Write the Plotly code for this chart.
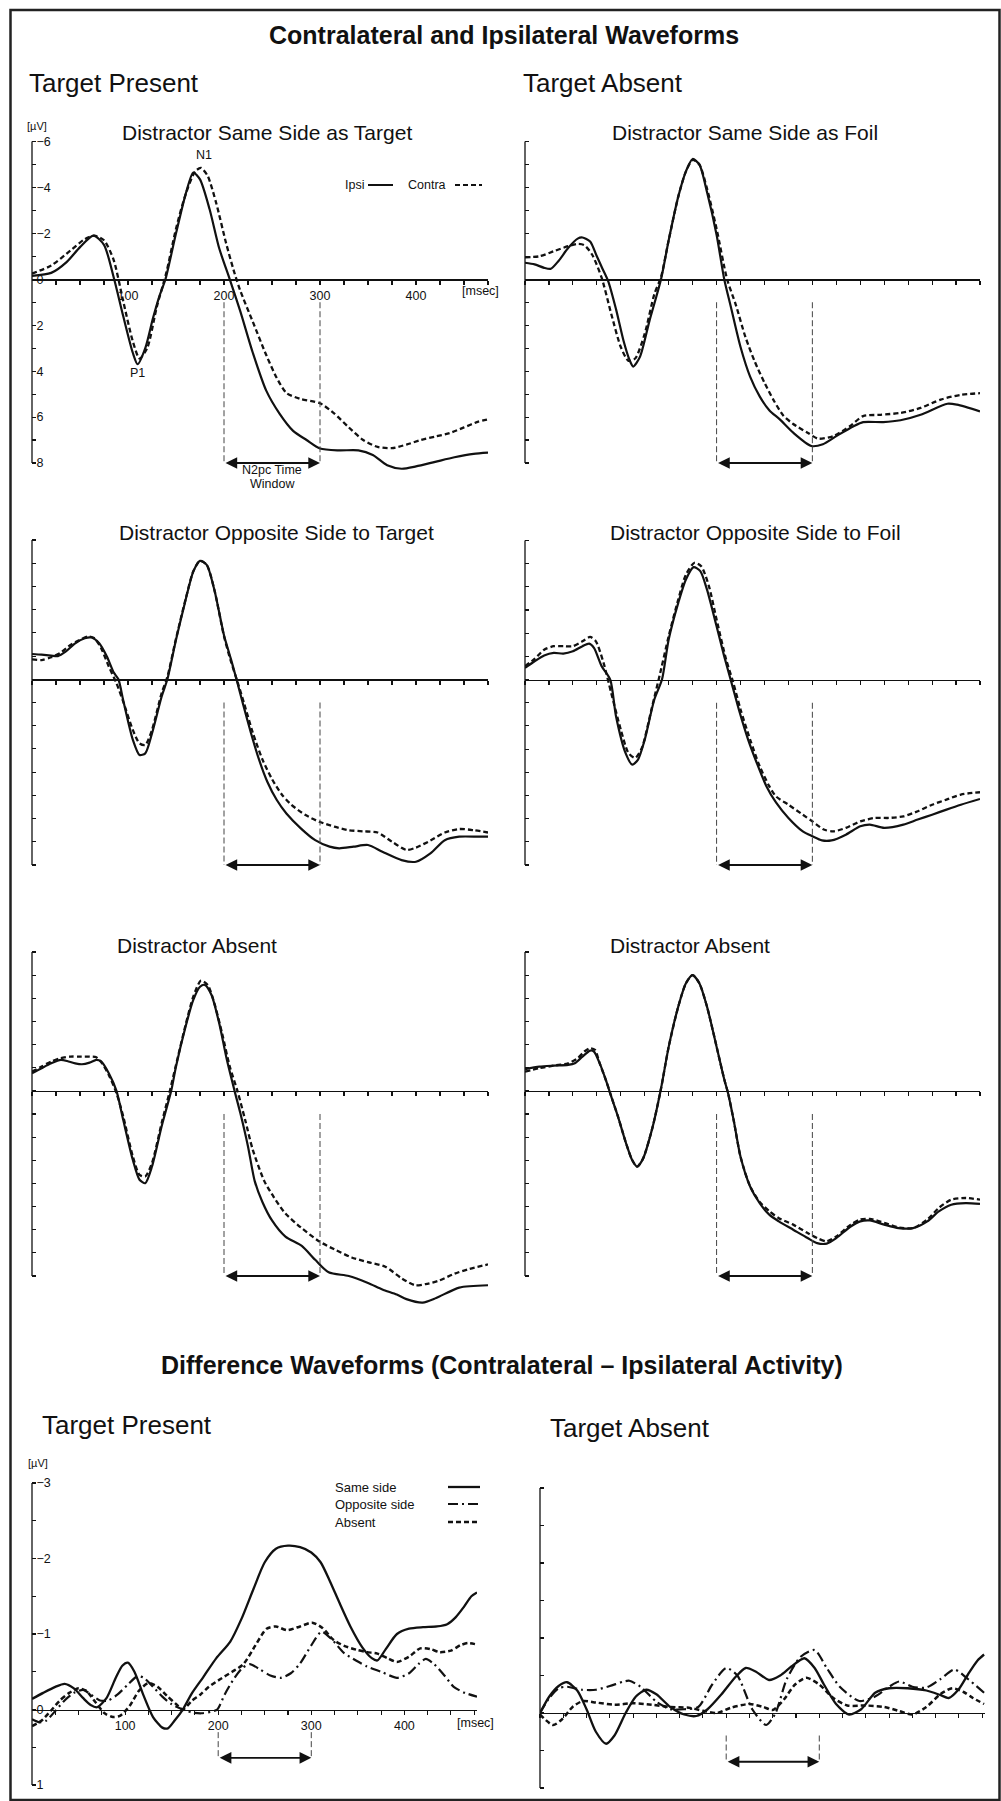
import plotly.graph_objects as go

# ---------------- data ----------------
TIME_TICKS = list(range(0, 476, 25))
X_LABELED = [100, 200, 300, 400]
ERP_Y_TICKS = list(range(-6, 9))
ERP_Y_LABELS = ["−6", "", "−4", "", "−2", "", "0", "", "2", "", "4", "", "6", "", "8"]
DIFF_Y_TICKS = [-3, -2.5, -2, -1.5, -1, -0.5, 0, 0.5, 1]
DIFF_Y_LABELS = ["−3", "", "−2", "", "−1", "", "0", "", "1"]
N2PC_WINDOW = [200, 300]

PANEL_TITLES = ["Distractor Same Side as Target", "Distractor Same Side as Foil",
                "Distractor Opposite Side to Target", "Distractor Opposite Side to Foil",
                "Distractor Absent", "Distractor Absent"]
DIFF_LEGEND = ["Same side", "Opposite side", "Absent"]

# Target present, distractor same side as target
a_ipsi_t = [0, 20, 36, 50, 64, 75, 85, 95, 105, 110, 118, 126, 133, 139, 150, 160, 168, 175, 185, 195,
            206, 217, 230, 244, 258, 272, 286, 300, 320, 340, 355, 370, 385, 400, 420, 440, 460, 475]
a_ipsi_v = [-0.15, -0.28, -0.75, -1.4, -1.9, -1.5, -0.1, 1.6, 3.2, 3.7, 3.0, 1.7, 0.7, 0.0, -2.0, -3.7, -4.65, -4.35, -3.05, -1.35,
            0.0, 1.4, 3.2, 4.85, 5.86, 6.6, 7.0, 7.37, 7.45, 7.45, 7.65, 8.1, 8.25, 8.15, 7.95, 7.75, 7.6, 7.55]
a_contra_t = [0, 20, 40, 55, 65, 75, 85, 95, 105, 112, 120, 130, 140, 150, 160, 170, 176, 183, 192, 202,
              210, 217, 230, 244, 255, 265, 279, 300, 315, 330, 345, 360, 375, 390, 405, 420, 435, 450, 465, 475]
a_contra_v = [-0.25, -0.6, -1.25, -1.75, -1.9, -1.7, -0.85, 0.95, 2.7, 3.45, 3.0, 1.2, -0.3, -2.2, -3.7, -4.7, -4.85, -4.5, -3.3, -1.6,
              -0.4, 0.5, 1.85, 3.3, 4.3, 4.95, 5.2, 5.4, 5.85, 6.45, 7.0, 7.3, 7.35, 7.2, 7.0, 6.85, 6.7, 6.45, 6.2, 6.1]

# Target absent, distractor same side as foil
b_ipsi_t = [0, 10, 20, 27, 35, 45, 55, 60, 68, 75, 81, 87, 95, 103, 109, 113, 120, 130, 142, 150,
            160, 168, 175, 182, 190, 200, 208, 215, 225, 235, 245, 255, 266, 280, 299, 311, 325, 343, 353, 374,
            392, 413, 441, 451, 475]
b_ipsi_v = [-0.72, -0.65, -0.5, -0.46, -0.8, -1.36, -1.77, -1.82, -1.65, -1.0, -0.45, 0.1, 1.3, 2.7, 3.5, 3.8, 3.38, 1.8, 0.0, -1.7,
            -3.6, -4.7, -5.24, -5.0, -3.8, -1.94, 0.0, 1.22, 2.95, 4.24, 5.1, 5.7, 6.1, 6.68, 7.26, 7.18, 6.83, 6.4, 6.22, 6.22,
            6.14, 5.9, 5.42, 5.46, 5.75]
b_contra_t = [0, 15, 30, 45, 55, 62, 70, 80, 90, 100, 108, 115, 125, 135, 142, 150, 160, 168, 175, 182,
              190, 200, 211, 220, 230, 240, 250, 260, 270, 280, 295, 306, 322, 339, 353, 371, 392, 413, 434, 455, 475]
b_contra_v = [-0.96, -1.0, -1.22, -1.44, -1.54, -1.48, -1.08, -0.07, 1.5, 2.95, 3.55, 3.45, 2.37, 0.65, -0.1, -1.7, -3.6, -4.7, -5.2, -5.0,
              -3.95, -2.2, 0.0, 1.1, 2.5, 3.6, 4.5, 5.3, 5.95, 6.3, 6.68, 6.94, 6.83, 6.4, 5.96, 5.9, 5.82, 5.6, 5.24, 5.03, 4.96]

# Target present, distractor opposite side to target
c_ipsi_t = [0, 10, 20, 27, 35, 45, 55, 62, 70, 78, 85, 90, 95, 105, 112, 118, 125, 135, 141, 150,
            160, 168, 175, 182, 190, 200, 207, 213, 220, 228, 236, 245, 255, 265, 280, 295, 310, 320, 335, 350,
            365, 385, 400, 415, 430, 445, 465, 475]
c_ipsi_v = [-1.09, -1.06, -1.02, -1.0, -1.19, -1.55, -1.77, -1.8, -1.55, -0.98, -0.3, 0.0, 0.9, 2.6, 3.26, 3.19, 2.33, 0.75, 0.0, -1.7,
            -3.42, -4.64, -5.1, -4.93, -3.85, -1.9, -0.9, 0.0, 1.1, 2.3, 3.4, 4.4, 5.2, 5.78, 6.42, 6.93, 7.21, 7.28, 7.21, 7.14,
            7.43, 7.79, 7.86, 7.5, 6.93, 6.78, 6.78, 6.78]
c_contra_t = [0, 10, 20, 30, 40, 50, 58, 65, 72, 80, 88, 95, 105, 112, 118, 125, 135, 141, 150, 160,
              168, 175, 182, 190, 200, 207, 214, 221, 230, 240, 250, 260, 270, 285, 300, 315, 330, 345, 360, 375,
              390, 400, 415, 430, 445, 460, 475]
c_contra_v = [-0.86, -0.83, -0.95, -1.15, -1.48, -1.7, -1.84, -1.77, -1.34, -0.55, 0.17, 0.96, 2.18, 2.76, 2.83, 2.18, 0.6, -0.1, -1.75, -3.45,
              -4.65, -5.1, -4.93, -3.85, -1.85, -0.8, 0.1, 1.05, 2.3, 3.45, 4.3, 4.95, 5.4, 5.85, 6.15, 6.35, 6.5, 6.55, 6.6, 7.0,
              7.35, 7.25, 6.95, 6.6, 6.45, 6.5, 6.6]

# Target absent, distractor opposite side to foil
d_ipsi_t = [0, 10, 20, 30, 40, 50, 60, 67, 72, 80, 89, 95, 105, 112, 118, 125, 135, 143, 150, 160,
            168, 176, 183, 190, 200, 208, 216, 224, 233, 242, 252, 262, 275, 290, 300, 310, 320, 335, 350, 360,
            375, 395, 410, 425, 440, 455, 475]
d_ipsi_v = [-0.5, -0.79, -1.04, -1.15, -1.12, -1.22, -1.44, -1.55, -1.37, -0.58, 0.0, 1.58, 3.17, 3.67, 3.45, 2.59, 0.86, 0.0, -1.73, -3.31,
            -4.32, -4.85, -4.68, -3.88, -2.3, -1.0, 0.2, 1.4, 2.6, 3.6, 4.6, 5.3, 5.97, 6.55, 6.76, 6.94, 6.94, 6.69, 6.33, 6.26,
            6.4, 6.26, 6.04, 5.83, 5.61, 5.4, 5.15]
d_contra_t = [0, 10, 20, 30, 40, 50, 60, 68, 74, 82, 90, 100, 108, 115, 122, 132, 142, 150, 160, 168,
              177, 184, 192, 200, 210, 217, 225, 235, 245, 255, 262, 275, 290, 300, 312, 322, 335, 350, 365, 380,
              395, 410, 425, 440, 455, 475]
d_contra_v = [-0.58, -0.89, -1.29, -1.44, -1.44, -1.44, -1.65, -1.84, -1.65, -0.72, 0.58, 2.16, 3.17, 3.38, 2.95, 1.29, -0.43, -1.87, -3.45, -4.53,
              -5.04, -4.89, -4.03, -2.59, -0.86, 0.07, 1.29, 2.59, 3.74, 4.6, 5.04, 5.4, 5.83, 6.12, 6.47, 6.55, 6.4, 6.12, 5.97, 5.97,
              5.9, 5.68, 5.4, 5.18, 4.96, 4.86]

# Target present, distractor absent
e_ipsi_t = [0, 10, 20, 30, 38, 45, 52, 60, 67, 72, 80, 88, 95, 105, 112, 118, 125, 135, 145, 150,
            160, 168, 175, 180, 187, 195, 203, 211, 217, 225, 232, 240, 250, 264, 281, 295, 309, 330, 350, 365,
            380, 390, 407, 421, 445, 475]
e_ipsi_v = [-0.76, -0.98, -1.19, -1.34, -1.27, -1.19, -1.15, -1.22, -1.34, -1.27, -0.76, 0.0, 1.25, 2.98, 3.84, 3.99, 3.27, 1.54, 0.0, -1.05,
            -2.78, -3.93, -4.5, -4.58, -4.14, -2.92, -1.34, 0.0, 0.96, 2.4, 3.9, 4.8, 5.6, 6.3, 6.7, 7.3, 7.84, 8.0, 8.3, 8.58,
            8.8, 9.0, 9.15, 8.95, 8.5, 8.4]
e_contra_t = [0, 10, 20, 30, 40, 50, 60, 67, 73, 80, 88, 95, 105, 112, 118, 125, 135, 143, 150, 160,
              168, 176, 183, 190, 198, 206, 214, 222, 230, 242, 252, 264, 280, 299, 315, 333, 350, 368, 385, 399,
              410, 424, 440, 455, 475]
e_contra_v = [-0.83, -1.05, -1.27, -1.41, -1.48, -1.48, -1.48, -1.45, -1.19, -0.69, 0.1, 1.1, 2.83, 3.63, 3.7, 3.12, 1.4, 0.1, -1.12, -2.85,
              -4.07, -4.76, -4.58, -3.78, -2.49, -1.05, 0.0, 1.25, 2.55, 3.9, 4.6, 5.3, 5.9, 6.5, 6.85, 7.2, 7.4, 7.6, 8.1, 8.4,
              8.35, 8.2, 7.9, 7.7, 7.5]

# Target absent, distractor absent
f_ipsi_t = [0, 15, 30, 45, 52, 60, 68, 72, 78, 85, 90, 97, 105, 112, 117, 123, 133, 142, 150, 160,
            168, 175, 182, 190, 200, 208, 212, 218, 225, 235, 245, 255, 265, 280, 295, 305, 315, 325, 340, 350,
            360, 375, 390, 405, 420, 432, 445, 460, 475]
f_ipsi_v = [-0.94, -1.05, -1.09, -1.12, -1.19, -1.48, -1.74, -1.7, -1.19, -0.4, 0.24, 1.1, 2.2, 3.0, 3.27, 2.95, 1.6, -0.1, -1.9, -3.64,
            -4.65, -5.0, -4.65, -3.64, -1.91, -0.5, 0.1, 1.3, 2.85, 4.13, 4.85, 5.35, 5.64, 6.0, 6.36, 6.58, 6.6, 6.36, 5.86, 5.64,
            5.6, 5.78, 5.93, 5.93, 5.64, 5.21, 4.92, 4.85, 4.88]
f_contra_t = [0, 15, 30, 45, 55, 62, 68, 73, 78, 85, 90, 97, 105, 112, 117, 123, 133, 142, 150, 160,
              168, 175, 182, 190, 200, 208, 212, 218, 225, 235, 245, 255, 265, 280, 295, 305, 315, 325, 340, 350,
              360, 375, 390, 405, 420, 432, 445, 460, 475]
f_contra_v = [-0.83, -0.98, -1.09, -1.19, -1.41, -1.7, -1.84, -1.77, -1.19, -0.4, 0.24, 1.1, 2.2, 3.0, 3.27, 2.95, 1.6, -0.1, -1.9, -3.64,
              -4.65, -5.0, -4.65, -3.64, -1.91, -0.5, 0.1, 1.3, 2.85, 4.13, 4.8, 5.2, 5.5, 5.78, 6.14, 6.36, 6.5, 6.29, 5.78, 5.56,
              5.53, 5.7, 5.9, 5.93, 5.56, 5.06, 4.7, 4.63, 4.7]

# Difference waves, target present
tp_same_t = [0, 12, 25, 35, 45, 55, 63, 70, 80, 90, 97, 103, 110, 120, 130, 140, 146, 153, 162, 172,
             184, 198, 213, 225, 238, 250, 262, 275, 288, 300, 310, 320, 330, 342, 355, 365, 371, 380, 392, 405,
             420, 435, 446, 455, 464, 472, 478]
tp_same_v = [-0.14, -0.22, -0.3, -0.34, -0.28, -0.15, -0.06, -0.03, -0.15, -0.42, -0.58, -0.62, -0.5, -0.18, 0.1, 0.24, 0.25, 0.15, 0.0, -0.22,
             -0.43, -0.68, -0.9, -1.2, -1.6, -1.95, -2.13, -2.17, -2.15, -2.08, -1.95, -1.7, -1.42, -1.1, -0.82, -0.68, -0.65, -0.8, -1.0, -1.07,
             -1.09, -1.1, -1.13, -1.22, -1.36, -1.5, -1.55]
tp_opp_t = [0, 8, 15, 25, 35, 45, 55, 63, 73, 82, 92, 103, 113, 120, 130, 140, 150, 162, 172, 182,
            192, 199, 207, 216, 226, 234, 245, 256, 267, 278, 288, 300, 311, 322, 335, 348, 360, 375, 392, 405,
            415, 423, 432, 443, 453, 465, 478]
tp_opp_v = [0.13, 0.17, 0.15, 0.02, -0.12, -0.22, -0.26, -0.2, -0.12, -0.12, -0.2, -0.33, -0.44, -0.42, -0.3, -0.17, -0.07, 0.0, 0.04, 0.05,
            0.03, 0.0, -0.2, -0.39, -0.55, -0.6, -0.53, -0.45, -0.42, -0.48, -0.61, -0.85, -1.03, -0.93, -0.75, -0.65, -0.57, -0.5, -0.42, -0.48,
            -0.6, -0.67, -0.6, -0.45, -0.3, -0.22, -0.17]
tp_abs_t = [0, 10, 20, 30, 40, 50, 58, 68, 78, 87, 95, 105, 115, 125, 135, 145, 155, 162, 172, 181,
            190, 202, 215, 227, 240, 252, 262, 274, 288, 301, 312, 324, 336, 349, 360, 371, 382, 392, 405, 417,
            428, 438, 450, 460, 468, 478]
tp_abs_v = [0.22, 0.15, 0.02, -0.12, -0.22, -0.28, -0.25, -0.1, 0.05, 0.1, 0.08, -0.05, -0.25, -0.35, -0.3, -0.18, -0.07, 0.0, -0.12, -0.2,
            -0.3, -0.4, -0.5, -0.6, -0.85, -1.07, -1.1, -1.05, -1.1, -1.15, -1.08, -0.92, -0.84, -0.79, -0.76, -0.74, -0.68, -0.63, -0.7, -0.81,
            -0.8, -0.76, -0.78, -0.85, -0.88, -0.86]

# Difference waves, target absent
ta_same_t = [0, 10, 20, 29, 40, 50, 60, 71, 80, 92, 103, 114, 125, 140, 155, 168, 180, 195, 210, 221,
             232, 246, 258, 270, 284, 295, 305, 318, 332, 345, 360, 375, 395, 415, 430, 439, 450, 460, 470, 477]
ta_same_v = [0.0, -0.22, -0.36, -0.41, -0.3, -0.05, 0.25, 0.41, 0.3, 0.0, -0.22, -0.31, -0.25, -0.08, 0.02, 0.04, -0.05, -0.25, -0.48, -0.6,
             -0.55, -0.44, -0.5, -0.62, -0.73, -0.6, -0.38, -0.12, 0.02, -0.05, -0.27, -0.33, -0.33, -0.3, -0.24, -0.2, -0.32, -0.52, -0.7, -0.78]
ta_opp_t = [0, 10, 20, 29, 45, 60, 75, 90, 96, 108, 125, 140, 155, 170, 185, 200, 212, 228, 243, 253,
            265, 280, 295, 308, 322, 343, 360, 375, 386, 400, 415, 430, 445, 460, 477]
ta_opp_v = [0.0, -0.2, -0.33, -0.35, -0.31, -0.31, -0.36, -0.42, -0.43, -0.35, -0.15, -0.05, -0.05, -0.08, -0.38, -0.6, -0.5, -0.05, 0.16, 0.0,
            -0.45, -0.75, -0.84, -0.6, -0.35, -0.16, -0.22, -0.35, -0.42, -0.35, -0.34, -0.45, -0.58, -0.45, -0.27]
ta_abs_t = [0, 14, 24, 35, 46, 60, 80, 100, 120, 140, 160, 175, 190, 205, 225, 240, 250, 262, 274, 286,
            300, 315, 330, 350, 370, 385, 400, 415, 430, 443, 455, 465, 477]
ta_abs_v = [0.02, 0.16, 0.08, -0.08, -0.16, -0.14, -0.11, -0.13, -0.11, -0.08, -0.07, -0.03, 0.0, -0.07, -0.12, -0.08, -0.04, -0.18, -0.38, -0.47,
            -0.38, -0.2, -0.1, -0.1, -0.08, -0.03, 0.02, -0.08, -0.25, -0.33, -0.28, -0.2, -0.12]

# ---------------- layout helpers ----------------
W, H = 1001, 1801
FONT = "Liberation Sans, Arial, Helvetica, sans-serif"
INK = "#111111"


def fx(p):
    return p / W


def fy(p):
    return 1 - p / H


fig = go.Figure()
layout = dict(width=W, height=H, margin=dict(l=0, r=0, t=0, b=0),
              paper_bgcolor="white", plot_bgcolor="rgba(0,0,0,0)",
              font=dict(family=FONT, color=INK), showlegend=False)
annotations = []
shapes = []

CONTRA_DASH = "5px,3px"
OPP_DASH = "10px,4px,2px,4px"
ABS_DASH = "5px,3px"


def setup_panel(idx, xpx, ypx, yvals, ypad, xrange_, yticks, ylabels, show_ylab, show_xlab, win_y, arrow_y):
    """xpx=(left,right) pixels; ypx=(pixel of yvals[0], pixel of yvals[1]); ypad=(extra data above, extra below)"""
    suf = "" if idx == 1 else str(idx)
    xr, yr = "x" + suf, "y" + suf
    ytop, ybot = yvals
    ppu = (ypx[1] - ypx[0]) / (ybot - ytop)
    ext_top = ytop - ypad[0]
    ext_bot = ybot + ypad[1]
    dom_top = ypx[0] - ypad[0] * ppu
    dom_bottom = ypx[1] + ypad[1] * ppu
    zero_px = ypx[0] + (0 - ytop) * ppu
    xtext = [str(v) if (v in X_LABELED and show_xlab) else "" for v in TIME_TICKS]
    layout["xaxis" + suf] = dict(
        domain=[fx(xpx[0]), fx(xpx[1])], range=xrange_, anchor="free", position=fy(zero_px),
        showline=True, linecolor=INK, linewidth=1.3, ticks="outside", ticklen=4, tickwidth=1.1,
        tickcolor=INK, tickvals=TIME_TICKS, ticktext=xtext, showticklabels=show_xlab,
        tickfont=dict(size=12.5, family=FONT, color=INK), showgrid=False, zeroline=False, fixedrange=True)
    layout["yaxis" + suf] = dict(
        domain=[fy(dom_bottom), fy(dom_top)], range=[ext_bot, ext_top], anchor=xr,
        showline=False, ticks="inside", ticklen=4, tickwidth=1.1, tickcolor=INK,
        tickvals=yticks, ticktext=ylabels, showticklabels=show_ylab, ticklabelposition="inside",
        tickfont=dict(size=12.5, family=FONT, color=INK), showgrid=False, zeroline=False, fixedrange=True)
    # y axis line only over the labelled span
    shapes.append(dict(type="line", xref=xr + " domain", yref=yr, x0=0, x1=0, y0=ytop, y1=ybot,
                       line=dict(color=INK, width=1.3)))
    # N2pc window markers
    for wv in N2PC_WINDOW:
        shapes.append(dict(type="line", xref=xr, yref=yr, x0=wv, x1=wv, y0=win_y, y1=arrow_y,
                           line=dict(color="#444444", width=1, dash="6px,3px")))
    annotations.append(dict(x=N2PC_WINDOW[1], y=arrow_y, ax=N2PC_WINDOW[0], ay=arrow_y,
                            xref=xr, yref=yr, axref=xr, ayref=yr, text="", showarrow=True,
                            arrowhead=2, arrowsize=1.3, arrowwidth=1.8, arrowcolor=INK,
                            arrowside="end+start", standoff=0, startstandoff=0))
    return xr, yr


def add_curve(xr, yr, t, v, dash="solid", width=2.2):
    fig.add_trace(go.Scatter(x=t, y=v, mode="lines", xaxis=xr, yaxis=yr,
                             line=dict(color=INK, width=width, dash=dash, shape="spline", smoothing=0.7),
                             hoverinfo="skip", showlegend=False))


def text(x, y, s, size, anchor="center", bold=False):
    annotations.append(dict(x=fx(x), y=fy(y), xref="paper", yref="paper", text=("<b>%s</b>" % s) if bold else s,
                            showarrow=False, xanchor=anchor, yanchor="middle",
                            font=dict(size=size, family=FONT, color=INK)))


ERP_PANELS = [
    # idx, x pixels, y pixels(-6, 8), ipsi, contra, title centre
    (1, (32, 488), (141.5, 463), (a_ipsi_t, a_ipsi_v), (a_contra_t, a_contra_v), (267, 132)),
    (2, (525, 980), (141.5, 463), (b_ipsi_t, b_ipsi_v), (b_contra_t, b_contra_v), (745, 132)),
    (3, (32, 488), (540, 865), (c_ipsi_t, c_ipsi_v), (c_contra_t, c_contra_v), (276, 533)),
    (4, (525, 980), (540.5, 865), (d_ipsi_t, d_ipsi_v), (d_contra_t, d_contra_v), (755, 533)),
    (5, (32, 488), (952, 1276), (e_ipsi_t, e_ipsi_v), (e_contra_t, e_contra_v), (197, 945)),
    (6, (525, 980), (952, 1276), (f_ipsi_t, f_ipsi_v), (f_contra_t, f_contra_v), (690, 945)),
]

for k, (idx, xpx, ypx, ipsi, contra, tpos) in enumerate(ERP_PANELS):
    xr, yr = setup_panel(idx, xpx, ypx, (-6, 8), (0.5, 1.6), [0, 475], ERP_Y_TICKS, ERP_Y_LABELS,
                         show_ylab=(idx == 1), show_xlab=(idx == 1), win_y=1.0, arrow_y=8)
    add_curve(xr, yr, contra[0], contra[1], dash=CONTRA_DASH, width=2.3)
    add_curve(xr, yr, ipsi[0], ipsi[1], dash="solid", width=2.2)
    text(tpos[0], tpos[1], PANEL_TITLES[k], 21)

# difference panels
xr7, yr7 = setup_panel(7, (32, 477), (1483, 1785), (-3, 1), (0.15, 0.15), [0, 478], DIFF_Y_TICKS, DIFF_Y_LABELS,
                       show_ylab=True, show_xlab=True, win_y=0.3, arrow_y=0.64)
add_curve(xr7, yr7, tp_opp_t, tp_opp_v, dash=OPP_DASH, width=2.2)
add_curve(xr7, yr7, tp_abs_t, tp_abs_v, dash=ABS_DASH, width=2.5)
add_curve(xr7, yr7, tp_same_t, tp_same_v, dash="solid", width=2.3)

xr8, yr8 = setup_panel(8, (540, 985), (1488, 1788), (-3, 1), (0.15, 0.15), [0, 478], DIFF_Y_TICKS, DIFF_Y_LABELS,
                       show_ylab=False, show_xlab=False, win_y=0.3, arrow_y=0.65)
add_curve(xr8, yr8, ta_opp_t, ta_opp_v, dash=OPP_DASH, width=2.2)
add_curve(xr8, yr8, ta_abs_t, ta_abs_v, dash=ABS_DASH, width=2.5)
add_curve(xr8, yr8, ta_same_t, ta_same_v, dash="solid", width=2.3)

# ---------------- text ----------------
text(504, 35, "Contralateral and Ipsilateral Waveforms", 25, bold=True)
text(27, 83, "Target Present", 26, anchor="left")
text(521, 83, "Target Absent", 26, anchor="left")
text(37, 126, "[µV]", 11)
text(480, 291, "[msec]", 12.5)
text(204, 155, "N1", 12.5)
text(137, 373, "P1", 12.5)
text(272, 470, "N2pc Time", 12.5)
text(272, 484, "Window", 12.5)
# ipsi / contra key
text(354, 185, "Ipsi", 12.5)
shapes.append(dict(type="line", xref="paper", yref="paper", x0=fx(368), x1=fx(393), y0=fy(185), y1=fy(185),
                   line=dict(color=INK, width=2)))
text(427, 185, "Contra", 12.5)
shapes.append(dict(type="line", xref="paper", yref="paper", x0=fx(455), x1=fx(482), y0=fy(185), y1=fy(185),
                   line=dict(color=INK, width=2, dash="5px,3px")))

text(502, 1365, "Difference Waveforms (Contralateral – Ipsilateral Activity)", 25, bold=True)
text(40, 1425, "Target Present", 26, anchor="left")
text(548, 1428, "Target Absent", 26, anchor="left")
text(38, 1463, "[µV]", 11)
text(475, 1723, "[msec]", 12.5)
for name, yy, dsh, wd in zip(DIFF_LEGEND, [1487, 1504, 1522], ["solid", OPP_DASH, ABS_DASH], [2.3, 2.2, 2.5]):
    text(333, yy, name, 13, anchor="left")
    shapes.append(dict(type="line", xref="paper", yref="paper", x0=fx(448), x1=fx(480), y0=fy(yy), y1=fy(yy),
                       line=dict(color=INK, width=wd, dash=dsh)))

# outer frame
shapes.append(dict(type="rect", xref="paper", yref="paper", x0=fx(10.5), x1=fx(999.5), y0=fy(1800), y1=fy(10),
                   line=dict(color="#222222", width=2.5), fillcolor="rgba(0,0,0,0)"))

layout["annotations"] = annotations
layout["shapes"] = shapes
fig.update_layout(**layout)
fig.write_html("out.html", config={"displayModeBar": False, "staticPlot": True},
               post_script="document.body.style.margin='0';document.body.style.padding='0';"
                           "document.documentElement.style.overflow='hidden';")
